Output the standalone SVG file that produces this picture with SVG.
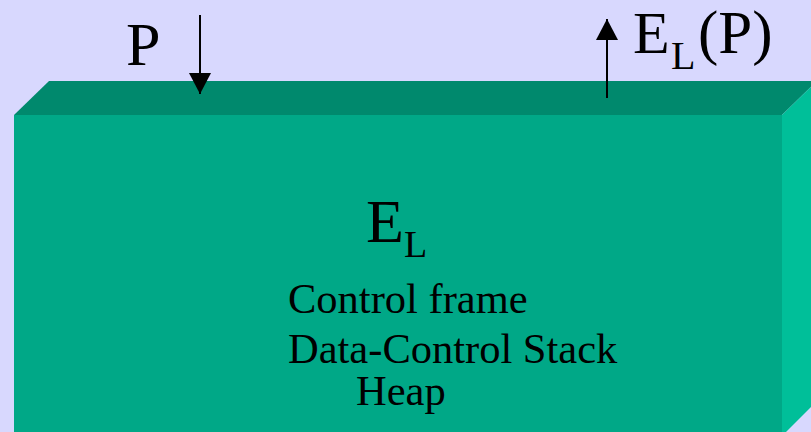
<svg xmlns="http://www.w3.org/2000/svg" width="811" height="432" viewBox="0 0 811 432">
  <defs>
    <style>
      .t { font-family: "Liberation Serif", "Times New Roman", serif; fill: #000; }
      .arrow { stroke: #000; stroke-width: 2; fill: none; }
    </style>
    <marker id="head" markerWidth="22" markerHeight="22" viewBox="0 0 22 22" refX="21" refY="11" orient="auto" markerUnits="userSpaceOnUse">
      <path d="M0,0 L21,11 L0,22 Z" fill="#000"/>
    </marker>
  </defs>

  <rect width="811" height="432" fill="#D8D8FE"/>

  <!-- environment slab -->
  <g id="slab">
    <polygon points="14,115 49,81 817,81 782,115" fill="#00896D"/>
    <polygon points="782,115 817,81 817,401 782,436" fill="#00BF99"/>
    <rect x="14" y="115" width="768" height="321" fill="#00A887"/>
  </g>

  <g id="label-EL">
    <text class="t" x="366" y="242" font-size="62">E</text>
    <text class="t" x="404" y="257" font-size="38">L</text>
  </g>

  <g id="contents">
    <text class="t" x="288" y="313" font-size="42.5">Control frame</text>
    <text class="t" x="288" y="363" font-size="42.5">Data-Control Stack</text>
    <text class="t" x="356" y="405" font-size="42.5">Heap</text>
  </g>

  <g id="input-P">
    <text class="t" x="126" y="65" font-size="62">P</text>
  </g>

  <g id="output-ELP">
    <text class="t" x="633" y="53" font-size="60">E</text>
    <text class="t" x="671" y="69" font-size="40">L</text>
    <text class="t" x="698" y="53" font-size="61">(P)</text>
  </g>

  <g id="connectors">
    <line class="arrow" x1="200" y1="15" x2="200" y2="94" marker-end="url(#head)"/>
    <line class="arrow" x1="607" y1="98" x2="607" y2="19" marker-end="url(#head)"/>
  </g>
</svg>
